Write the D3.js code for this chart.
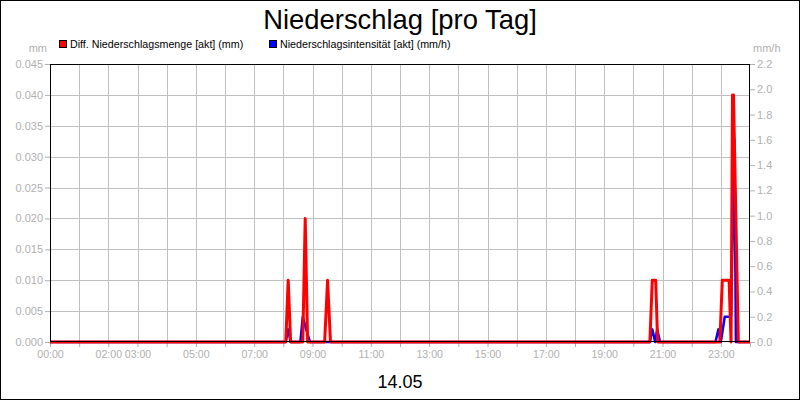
<!DOCTYPE html>
<html>
<head>
<meta charset="utf-8">
<script src="https://cdn.jsdelivr.net/npm/d3@7"></script>
<style>
  body { margin: 0; background: #fff; }
  svg { display: block; font-family: "Liberation Sans", Arial, sans-serif; }
  .lbl { fill: #b0b0b0; font-size: 11px; }
</style>
</head>
<body>
<div id="chart"></div>
<script>
// Diff. Niederschlagsmenge [akt] (mm) - left axis
var rainTimes  = ["00:00","08:05","08:10","08:15","08:40","08:45","08:50","09:25","09:31","09:37",
                  "20:34","20:39","20:46","20:50","22:58","23:03","23:17","23:21","23:24","23:26","23:36","24:00"];
var rainValues = [0, 0, 0.01, 0, 0, 0.02, 0, 0, 0.01, 0,
                  0, 0.01, 0.01, 0, 0, 0.01, 0.01, 0, 0.04, 0.04, 0, 0];

// Niederschlagsintensitaet [akt] (mm/h) - right axis
var intTimes  = ["00:00","08:05","08:10","08:15","08:35","08:40","08:47","08:55",
                 "20:34","20:39","20:45","20:49","20:55","22:49","22:55","23:00","23:08","23:21","23:28","23:31","24:00"];
var intValues = [0, 0, 0.1, 0, 0, 0.2, 0.1, 0,
                 0, 0.1, 0, 0.1, 0, 0, 0.1, 0, 0.2, 0.2, 1.6, 0, 0];

var hourTicks  = d3.range(0, 25);
var hourLabels = ["00:00","02:00","03:00","05:00","07:00","09:00","11:00","13:00","15:00","17:00","19:00","21:00","23:00"];
var leftTicks  = [0, 0.005, 0.010, 0.015, 0.020, 0.025, 0.030, 0.035, 0.040, 0.045];
var rightTicks = [0, 0.2, 0.4, 0.6, 0.8, 1.0, 1.2, 1.4, 1.6, 1.8, 2.0, 2.2];

var W = 800, H = 400;
var m = {left: 50, right: 50, top: 64, bottom: 58};

function hours(t) {
  var p = t.split(":");
  return +p[0] + (+p[1]) / 60;
}

var svg = d3.select("#chart").append("svg").attr("width", W).attr("height", H);

var x = d3.scaleLinear().domain([0, 24]).range([m.left, W - m.right]);
var yL = d3.scaleLinear().domain([0, 0.045]).range([H - m.bottom, m.top]);
var yR = d3.scaleLinear().domain([0, 2.2]).range([H - m.bottom, m.top]);

// outer frame
svg.append("rect").attr("x", 0.5).attr("y", 0.5).attr("width", W - 1).attr("height", H - 1)
  .attr("fill", "#fff").attr("stroke", "#000");

// title
svg.append("text").attr("x", 400).attr("y", 29).attr("text-anchor", "middle")
  .style("font-size", "27.4px").text("Niederschlag [pro Tag]");

// legend
var legend = [
  {name: "Diff. Niederschlagsmenge [akt] (mm)", color: "#ff0000", x: 59},
  {name: "Niederschlagsintensität [akt] (mm/h)", color: "#0000ff", x: 269}
];
legend.forEach(function (d) {
  svg.append("rect").attr("x", d.x + 0.5).attr("y", 40.5).attr("width", 7).attr("height", 7)
    .attr("fill", d.color).attr("stroke", "#000");
  svg.append("text").attr("x", d.x + 11).attr("y", 48).style("font-size", "10.7px").text(d.name);
});

// units
svg.append("text").attr("class", "lbl").attr("x", 47).attr("y", 52).attr("text-anchor", "end").text("mm");
svg.append("text").attr("class", "lbl").attr("x", 753).attr("y", 52).text("mm/h");

// grid
svg.append("g").selectAll("line").data(hourTicks.slice(1, -1)).enter().append("line")
  .attr("x1", function (d) { return Math.round(x(d)) + 0.5; })
  .attr("x2", function (d) { return Math.round(x(d)) + 0.5; })
  .attr("y1", m.top).attr("y2", H - m.bottom)
  .attr("stroke", "#c0c0c0");
svg.append("g").selectAll("line").data(leftTicks.slice(1, -1)).enter().append("line")
  .attr("y1", function (d) { return Math.round(yL(d)) + 0.5; })
  .attr("y2", function (d) { return Math.round(yL(d)) + 0.5; })
  .attr("x1", m.left).attr("x2", W - m.right)
  .attr("stroke", "#c0c0c0");

// axes
var axL = svg.append("g").attr("class", "lbl").attr("transform", "translate(" + m.left + ",0)")
  .call(d3.axisLeft(yL).tickValues(leftTicks).tickFormat(d3.format(".3f")).tickSize(5).tickPadding(2));
var axR = svg.append("g").attr("class", "lbl").attr("transform", "translate(" + (W - m.right) + ",0)")
  .call(d3.axisRight(yR).tickValues(rightTicks).tickFormat(d3.format(".1f")).tickSize(5).tickPadding(2));
var axB = svg.append("g").attr("class", "lbl").attr("transform", "translate(0," + (H - m.bottom) + ")")
  .call(d3.axisBottom(x).tickValues(hourTicks).tickSize(5).tickPadding(3)
    .tickFormat(function (d) {
      var s = (d < 10 ? "0" : "") + d + ":00";
      return hourLabels.indexOf(s) >= 0 ? s : "";
    }));
[axL, axR, axB].forEach(function (g) {
  g.select(".domain").remove();
  g.selectAll(".tick line").attr("stroke", "#b0b0b0");
  g.selectAll(".tick text").attr("fill", "#b0b0b0").style("font-size", "11px")
    .style("font-family", "'Liberation Sans', Arial, sans-serif");
});
axB.selectAll(".tick text").style("font-size", "10.6px");

// series
var rain = rainTimes.map(function (t, i) { return [hours(t), rainValues[i]]; });
var inten = intTimes.map(function (t, i) { return [hours(t), intValues[i]]; });

svg.append("path").datum(inten)
  .attr("d", d3.line().x(function (d) { return x(d[0]); }).y(function (d) { return yR(d[1]); }))
  .attr("fill", "none").attr("stroke", "#0000ff").attr("stroke-width", 2.5).attr("stroke-linejoin", "round");
svg.append("path").datum(rain)
  .attr("d", d3.line().x(function (d) { return x(d[0]); }).y(function (d) { return yL(d[1]); }))
  .attr("fill", "none").attr("stroke", "#ff0000").attr("stroke-width", 3).attr("stroke-linejoin", "round");

// plot frame
svg.append("rect").attr("x", m.left + 0.5).attr("y", m.top + 0.5)
  .attr("width", W - m.left - m.right - 1).attr("height", H - m.top - m.bottom - 1)
  .attr("fill", "none").attr("stroke", "#000");

// date
svg.append("text").attr("x", 400).attr("y", 388).attr("text-anchor", "middle")
  .style("font-size", "18px").text("14.05");
</script>
</body>
</html>
